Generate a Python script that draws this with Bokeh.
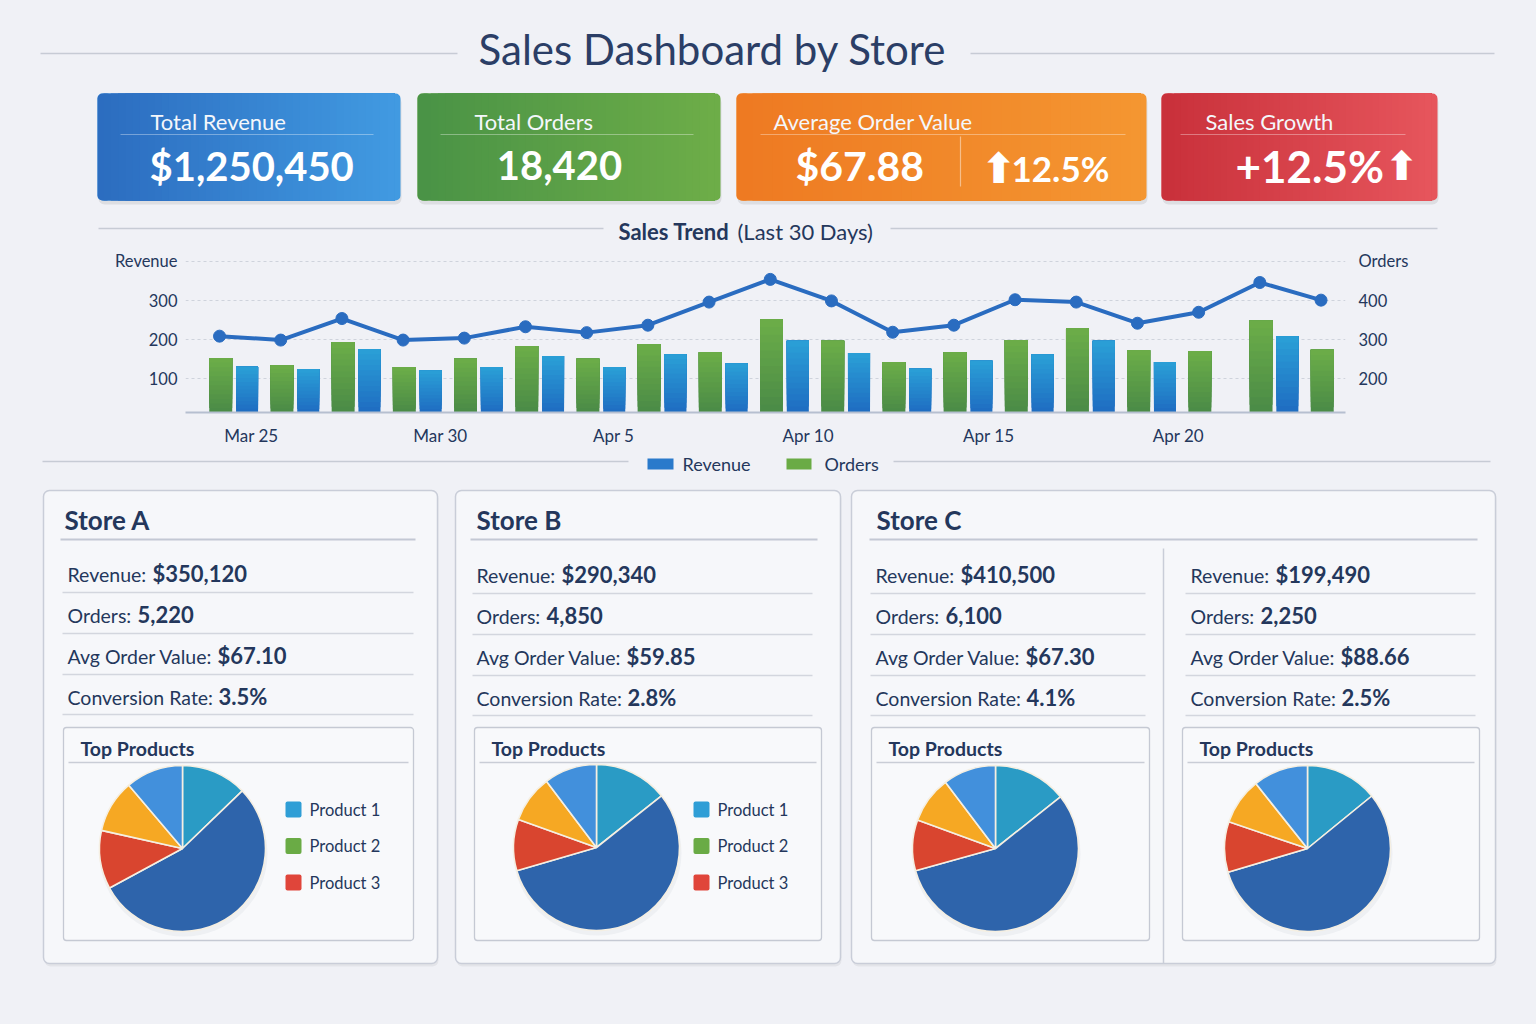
import numpy as np
from bokeh.plotting import figure
from bokeh.models import Range1d, LinearAxis, FixedTicker
from bokeh.layouts import column
from bokeh.embed import file_html
from bokeh.resources import INLINE
from bokeh.core.properties import value

# ---------------- data ----------------
title = "Sales Dashboard by Store"
kpi_titles = ["Total Revenue", "Total Orders", "Average Order Value", "Sales Growth"]
kpi_values = ["$1,250,450", "18,420", "$67.88", "+12.5%"]
kpi_delta = "12.5%"

tick_labels = ["Mar 25", "Mar 30", "Apr 5", "Apr 10", "Apr 15", "Apr 20"]
tick_pos = [0.52, 3.61, 6.44, 9.62, 12.57, 15.67]
periods = list(range(19))
revenue_line = [209, 199, 254, 199, 204, 233, 218, 237, 296, 354, 299, 219, 237, 302, 296, 242, 270, 346, 301]
orders_bars = [253, 235, 294, 230, 251, 284, 251, 289, 268, 352, 297, 243, 268, 299, 329, 273, 271, 349, 274]
revenue_bars = [131, 125, 176, 121, 130, 158, 130, 163, 139, 197, 166, 126, 146, 162, 197, 143, None, 209, None]

store_names = ["Store A", "Store B", "Store C", ""]
store_revenue = [350120, 290340, 410500, 199490]
store_orders = [5220, 4850, 6100, 2250]
store_aov = [67.10, 59.85, 67.30, 88.66]
store_conv = [3.5, 2.8, 4.1, 2.5]
product_labels = ["Product 1", "Product 2", "Product 3"]
# slice shares (%) clockwise from 12 o'clock
pie_shares = [
    [12.8, 54.3, 11.4, 10.3, 11.2],
    [14.3, 56.2, 10.0, 9.2, 10.3],
    [14.3, 56.4, 9.9, 9.1, 10.3],
    [14.1, 56.3, 9.8, 9.1, 10.7],
]

# ---------------- style ----------------
W = 1536
bg = "#f0f1f6"
navy = "#24375c"
FONT = "Lato"
pie_colors = ["#2a9bc5", "#2e64ab", "#d9452f", "#f6a823", "#4290dc"]
legend_colors = ["#2f9ed6", "#6aab45", "#e0453a"]
card_left_colors = ["#2c6dc0", "#4a9346", "#ee7a22", "#c9313b"]
card_right_colors = ["#419ae1", "#6dad48", "#f49631", "#e6555c"]


def canvas(y0, y1):
    p = figure(width=W, height=y1 - y0, x_range=Range1d(0, W), y_range=Range1d(y1, y0),
               output_backend="svg", toolbar_location=None, x_axis_type=None, y_axis_type=None,
               min_border=0, background_fill_color=bg, border_fill_color=bg,
               outline_line_color=None, frame_align=False)
    p.xgrid.visible = False
    p.ygrid.visible = False
    return p


def txt(p, x, y, s, size, color=navy, bold=False, align="left", font=FONT, alpha=1.0):
    p.text(x=[x], y=[y], text=[s], text_font=value(font), text_font_size=f"{size}px",
           text_font_style="bold" if bold else "normal", text_color=color, text_align=align,
           text_baseline="middle", text_alpha=alpha)


def hline(p, x0, x1, y, color="#c7cbd5", width=1.5, alpha=1.0):
    p.segment(x0=[x0], y0=[y], x1=[x1], y1=[y], line_color=color, line_width=width, line_alpha=alpha)


def mix(c1, c2, t):
    a = [int(c1[i:i + 2], 16) for i in (1, 3, 5)]
    b = [int(c2[i:i + 2], 16) for i in (1, 3, 5)]
    return "#%02x%02x%02x" % tuple(int(round(a[i] + (b[i] - a[i]) * t)) for i in range(3))


# ---------------- header (KPI) ----------------
pa = canvas(0, 245)
txt(pa, 712, 48, title, 42, color="#2b3e66", align="center")
hline(pa, 40, 457, 53)
hline(pa, 970, 1494, 53)

card_l = [97, 417, 736, 1161]
card_r = [400, 720, 1146, 1437]
CT, CB = 93, 200
pa.quad(left=[l + 1 for l in card_l], right=[r + 1 for r in card_r], top=[CT + 3] * 4, bottom=[CB + 4] * 4,
        fill_color="#000000", fill_alpha=0.08, line_color=None, border_radius=6)
pa.quad(left=card_l, right=card_r, top=[CT] * 4, bottom=[CB] * 4, fill_color=card_right_colors,
        line_color=None, border_radius=5)
pa.quad(left=card_l, right=[l + 14 for l in card_l], top=[CT] * 4, bottom=[CB] * 4,
        fill_color=card_left_colors, line_color=None, border_radius=5)
NS = 40
for k in range(4):
    l, r = card_l[k] + 6, card_r[k] - 6
    edges = np.linspace(l, r, NS + 1)
    cols = [mix(card_left_colors[k], card_right_colors[k], (i + 0.5) / NS) for i in range(NS)]
    # each strip reaches to the right end; later strips overlay -> no seams
    pa.quad(left=list(edges[:-1]), right=[r] * NS, top=[CT] * NS, bottom=[CB] * NS,
            fill_color=cols, line_color=None)

sep_l = [120, 440, 760, 1180]
sep_r = [373, 693, 1125, 1405]
for a, b in zip(sep_l, sep_r):
    hline(pa, a, b, 134, color="#ffffff", width=1.2, alpha=0.35)
title_x = [150, 474, 773, 1205]
for x, s in zip(title_x, kpi_titles):
    txt(pa, x, 121, s, 22, color="#f4f7fb")
txt(pa, 149, 165, kpi_values[0], 40, color="#ffffff", bold=True)
txt(pa, 559, 165, kpi_values[1], 40, color="#ffffff", bold=True, align="center")
txt(pa, 795, 165, kpi_values[2], 41, color="#ffffff", bold=True)
pa.segment(x0=[960], y0=[136], x1=[960], y1=[186], line_color="#ffffff", line_alpha=0.45, line_width=1.2)
txt(pa, 998, 168, "\u2b06", 42, color="#ffffff", bold=True, align="center", font="DejaVu Sans")
txt(pa, 1011, 167, kpi_delta, 35, color="#ffffff", bold=True)
txt(pa, 1235, 165, kpi_values[3], 44, color="#ffffff", bold=True)
txt(pa, 1401, 165, "\u2b06", 40, color="#ffffff", bold=True, align="center", font="DejaVu Sans")

hline(pa, 98, 603, 228)
hline(pa, 890, 1437, 228)
txt(pa, 618, 231, "Sales Trend", 22, bold=True)
txt(pa, 737, 231, "(Last 30 Days)", 22)

# ---------------- trend chart ----------------
REV_MIN, REV_MAX = 14, 415
ORD_MIN, ORD_MAX = 114, 515
pb = figure(width=W, height=203, x_range=Range1d(-0.556, 18.40), y_range=Range1d(REV_MIN, REV_MAX),
            output_backend="svg", toolbar_location=None, frame_align=False,
            min_border_left=185, min_border_right=191, min_border_top=10, min_border_bottom=34,
            background_fill_color=bg, border_fill_color=bg, outline_line_color=None)
pb.extra_y_ranges = {"orders": Range1d(ORD_MIN, ORD_MAX)}

NG = 12


def gradient_bars(xs, vals, base, c_bottom, c_top, width, range_name=None):
    # each layer spans from its own start up to the bar's value; upper layers overlay lower ones
    X, B, T, C = [], [], [], []
    for i in range(NG):
        for x, v in zip(xs, vals):
            edges = np.linspace(base, v, NG + 1)
            X.append(x)
            B.append(edges[i])
            T.append(v)
            C.append(mix(c_bottom, c_top, (i + 0.5) / NG))
    kw = dict(x=X, bottom=B, top=T, width=width, fill_color=C, line_color=None)
    if range_name:
        kw["y_range_name"] = range_name
    pb.vbar(**kw)


gx = [i + 0.02 for i in periods]
gradient_bars(gx, orders_bars, ORD_MIN, "#4a8a47", "#6cae48", 0.375, "orders")
bx = [i + 0.45 for i, v in zip(periods, revenue_bars) if v is not None]
bv = [v for v in revenue_bars if v is not None]
gradient_bars(bx, bv, REV_MIN, "#1f6cc1", "#2aa0d7", 0.36)
pb.line(x=periods, y=revenue_line, line_color="#2a6cc0", line_width=4)
pb.scatter(x=periods, y=revenue_line, size=12, fill_color="#2a6cc0", line_color="#2a6cc0")

left_ticks = [100, 200, 300, 400]
pb.yaxis.ticker = FixedTicker(ticks=left_ticks)
pb.yaxis.major_label_overrides = {400: "Revenue"}
pb.ygrid.ticker = FixedTicker(ticks=left_ticks)
pb.ygrid.grid_line_color = "#cfd3dc"
pb.ygrid.grid_line_dash = "3 3"
pb.xgrid.visible = False

ax_r = LinearAxis(y_range_name="orders", ticker=FixedTicker(ticks=[200, 300, 400, 500]))
ax_r.major_label_overrides = {500: "Orders"}
pb.add_layout(ax_r, "right")
for ax in [pb.yaxis[0], ax_r, pb.xaxis[0]]:
    ax.major_tick_line_color = None
    ax.minor_tick_line_color = None
    ax.major_tick_out = 0
    ax.major_tick_in = 0
    ax.minor_tick_out = 0
    ax.minor_tick_in = 0
    ax.major_label_text_font = FONT
    ax.major_label_text_color = navy
for ax in [pb.yaxis[0], ax_r]:
    ax.axis_line_color = None
    ax.major_label_text_font_size = "16.5px"
pb.yaxis[0].major_label_standoff = 8
ax_r.major_label_standoff = 13

pb.xaxis.ticker = FixedTicker(ticks=tick_pos)
pb.xaxis.major_label_overrides = dict(zip(tick_pos, tick_labels))
pb.xaxis.axis_line_color = "#b6bfd0"
pb.xaxis.axis_line_width = 2
pb.xaxis.major_label_standoff = 12
pb.xaxis.major_label_text_font_size = "17px"

# ---------------- stores ----------------
pc = canvas(448, 1024)
# legend for trend chart + separator
hline(pc, 42, 628, 461)
hline(pc, 893, 1490, 461)
pc.quad(left=[647, 786], right=[673, 811], top=[458, 458], bottom=[469, 469],
        fill_color=["#2a7acb", "#6aab45"], line_color=None)
txt(pc, 682, 463, "Revenue", 18)
txt(pc, 824, 463, "Orders", 18)

panel_l = [43, 455, 851]
panel_r = [437, 840, 1495]
pc.quad(left=[l + 1 for l in panel_l], right=[r + 1 for r in panel_r], top=[492] * 3, bottom=[966] * 3,
        fill_color="#000000", fill_alpha=0.05, line_color=None, border_radius=6)
pc.quad(left=panel_l, right=panel_r, top=[490] * 3, bottom=[963] * 3, fill_color="#f6f7fa",
        line_color="#c9cdd8", line_width=1.5, border_radius=6)
pc.segment(x0=[1163], y0=[548], x1=[1163], y1=[963], line_color="#c9cdd8", line_width=1.5)

head_x = [64, 476, 876]
head_l = [60, 470, 869]
head_r = [415, 817, 1477]
for k in range(3):
    txt(pc, head_x[k], 519, store_names[k], 26, bold=True)
    hline(pc, head_l[k], head_r[k], 539, color="#c3c8d4", width=1.8)

col_x = [67, 476, 875, 1190]
line_l = [62, 472, 870, 1185]
line_r = [413, 812, 1145, 1475]
row_dy = [0, 1, 1, 1]
row_y = [573, 614, 655, 696]
sep_y = [592, 633, 674, 714]
row_labels = ["Revenue:", "Orders:", "Avg Order Value:", "Conversion Rate:"]
val_off = [85, 70, 150, 151]
for k in range(4):
    vals = [f"${store_revenue[k]:,}", f"{store_orders[k]:,}", f"${store_aov[k]:.2f}", f"{store_conv[k]:.1f}%"]
    for j in range(4):
        y = row_y[j] + row_dy[k]
        txt(pc, col_x[k], y + 1, row_labels[j], 19.5)
        txt(pc, col_x[k] + val_off[j], y, vals[j], 22, bold=True)
        hline(pc, line_l[k], line_r[k], sep_y[j] + row_dy[k], color="#d3d6de", width=1.3)

box_l = [63, 474, 871, 1182]
box_r = [413, 821, 1149, 1479]
pc.quad(left=box_l, right=box_r, top=[727] * 4, bottom=[940] * 4, fill_color="#f8f9fb",
        line_color="#c5c9d3", line_width=1.3, border_radius=3)
pie_cx = [182, 596, 995, 1307]
pie_cy = [848, 847, 848, 848]
for k in range(4):
    txt(pc, box_l[k] + 17, 748, "Top Products", 19.5, bold=True)
    hline(pc, box_l[k] + 5, box_r[k] - 5, 762, color="#c9cdd6", width=1.3)
    shares = np.array(pie_shares[k], dtype=float)
    cum = np.concatenate([[0], np.cumsum(shares)]) / shares.sum() * 2 * np.pi
    start = np.pi / 2 - cum[:-1]
    end = np.pi / 2 - cum[1:]
    pc.ellipse(x=[pie_cx[k] + 1], y=[pie_cy[k] + 5], width=168, height=166,
               fill_color="#1c2a44", fill_alpha=0.045, line_color=None)
    pc.wedge(x=[pie_cx[k]] * 5, y=[pie_cy[k]] * 5, radius=83, start_angle=list(start),
             end_angle=list(end), direction="clock", fill_color=pie_colors,
             line_color="#f5efe2", line_width=1.6)

leg_sq = [285, 693]
for k in range(2):
    for j in range(3):
        y = 809 + j * 36.5
        pc.quad(left=[leg_sq[k]], right=[leg_sq[k] + 16], top=[y - 8], bottom=[y + 8],
                fill_color=legend_colors[j], line_color=None, border_radius=2)
        txt(pc, leg_sq[k] + 24, y, product_labels[j], 16.5)

layout = column(pa, pb, pc, spacing=0)
html = file_html(layout, INLINE, "Sales Dashboard by Store")
css = ("<style>html,body{margin:0 !important;padding:0 !important;"
       f"background:{bg} !important;overflow:hidden;}}</style>")
html = html.replace("</head>", css + "</head>", 1)
open("out.html", "w").write(html)
